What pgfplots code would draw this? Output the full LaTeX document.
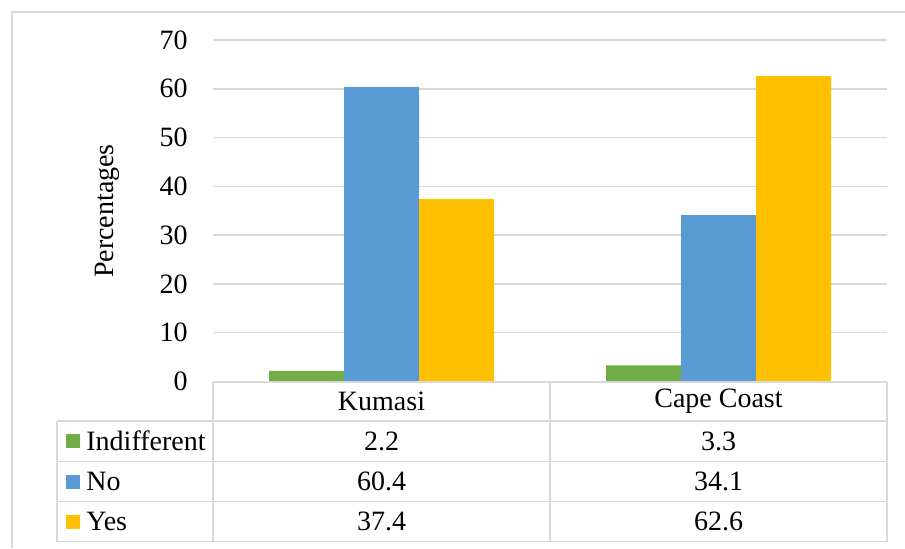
\documentclass[border=0pt]{standalone}
\usepackage{pgfplots}
\pgfplotsset{compat=1.18}
\usepackage{pgfplotstable}
\usepackage{fontspec}
\setmainfont{Liberation Serif}
\definecolor{cgreen}{HTML}{70AD47}
\definecolor{cblue}{HTML}{5B9BD5}
\definecolor{cyellow}{HTML}{FFC000}
\definecolor{cgrid}{HTML}{D9D9D9}
\pgfplotstableread{
x Indifferent No Yes
0 2.2 60.4 37.4
1 3.3 34.1 62.6
}\datatable
\begin{document}
\begin{tikzpicture}[x=0.5pt,y=0.5pt,font=\fontsize{14}{16}\selectfont]
\path[use as bounding box,fill=white] (0,0) rectangle (905,548);
% outer frame
\draw[cgrid,line width=0.75pt] (12,0) -- (12,536) -- (905,536);
\begin{axis}[
  at={(106.5pt,83.25pt)}, anchor=south west,
  scale only axis, width=337pt, height=170.75pt,
  xmin=-0.5, xmax=1.5, ymin=0, ymax=70,
  ybar=0pt, bar width=37.5pt,
  xtick=\empty,
  ytick={0,10,...,70},
  ymajorgrids, grid style={cgrid,line width=0.75pt},
  axis line style={draw=none},
  major tick length=0pt,
  /pgf/number format/assume math mode=true,
  yticklabel style={font=\fontsize{14}{16}\selectfont, inner sep=0pt, anchor=east, xshift=-12.5pt},
  clip=false,
]
\addplot[fill=cgreen, draw=none] table[x=x,y=Indifferent] {\datatable};
\addplot[fill=cblue, draw=none] table[x=x,y=No] {\datatable};
\addplot[fill=cyellow, draw=none] table[x=x,y=Yes] {\datatable};
\end{axis}
% y label
\node[rotate=90] at (107,337) {Percentages};
% table grid
\begin{scope}[cgrid,line width=0.75pt]
\draw (213,166) -- (887,166);
\draw (57,127) -- (887,127);
\draw (57,86.5) -- (887,86.5);
\draw (57,46.5) -- (887,46.5);
\draw (57,6.5) -- (887,6.5);
\draw (57,127) -- (57,6.5);
\draw (213,166) -- (213,6.5);
\draw (550,166) -- (550,6.5);
\draw (887,166) -- (887,6.5);
\end{scope}
% header
\node at (381.5,146.5) {Kumasi};
\node at (718.5,146.5) {Cape Coast};
% legend cells
\fill[cgreen] (66,100) rectangle (80,114);
\node[anchor=west,inner sep=0pt] at (86,107) {Indifferent};
\fill[cblue] (66,59.5) rectangle (80,73.5);
\node[anchor=west,inner sep=0pt] at (86,66.5) {No};
\fill[cyellow] (66,19.5) rectangle (80,33.5);
\node[anchor=west,inner sep=0pt] at (86,26.5) {Yes};
% values
\node at (381.5,107) {2.2};
\node at (718.5,107) {3.3};
\node at (381.5,66.5) {60.4};
\node at (718.5,66.5) {34.1};
\node at (381.5,26.5) {37.4};
\node at (718.5,26.5) {62.6};
\end{tikzpicture}
\end{document}
